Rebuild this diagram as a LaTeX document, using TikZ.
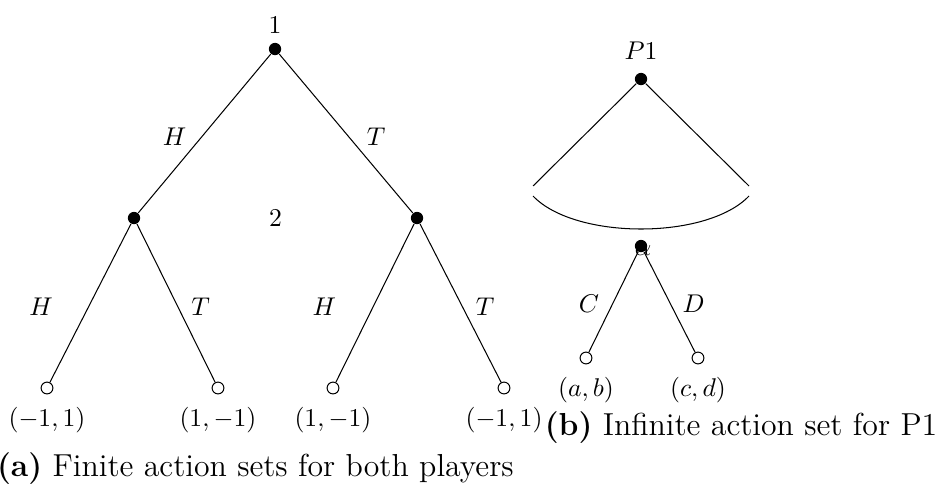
\documentclass[tikz,border=0pt]{standalone}
\usetikzlibrary{positioning, calc}

\begin{document}
\begin{tikzpicture}[
    x=0.39pt, y=-0.39pt,
    dot/.style={circle, fill, inner sep=0pt, minimum size=4.8pt},
    leaf/.style={circle, draw, fill=white, inner sep=0pt, minimum size=4.6pt},
    capt/.style={font=\fontsize{12.4}{14}\selectfont},
    every label/.style={label distance=1.5pt}
  ]
  \useasboundingbox (0,0) rectangle (944,488);

  % (a) finite game
  \node[dot, label={[label distance=0pt]above:$1$}] (r) at (275,49) {};
  \node[dot] (a1) at (134,218) {};
  \node[dot] (a2) at (417,218) {};
  \node (p2) at ($(a1)!0.5!(a2)$) {$2$};

  \node[leaf, label=below:{$(-1,1)$}] (l1) at (47,388) {};
  \node[leaf, label=below:{$(1,-1)$}] (l2) at (218,388) {};
  \node[leaf, label=below:{$(1,-1)$}] (l3) at (333,388) {};
  \node[leaf, label=below:{$(-1,1)$}] (l4) at (504,388) {};

  \draw (r) -- (a1) node[pos=.52, left=2.5pt] {$H$};
  \draw (r) -- (a2) node[pos=.52, right=3.6pt] {$T$};
  \draw (a1) -- (l1) node[pos=.52, left=10.5pt] {$H$};
  \draw (a1) -- (l2) node[pos=.52, right=1.8pt] {$T$};
  \draw (a2) -- (l3) node[pos=.52, left=11pt] {$H$};
  \draw (a2) -- (l4) node[pos=.52, right=1.8pt] {$T$};

  \node[capt, anchor=west] (capa) at (-12,469)
    {\textbf{(a)} Finite action sets for both players};

  % (b) infinite action set
  \node[dot, label=above:$P1$] (q) at (641,79) {};
  \coordinate (cl) at (533,186);
  \coordinate (cr) at (749,186);
  \coordinate (al) at (533,196);
  \coordinate (ar) at (749,196);
  \draw (cl) -- (q) -- (cr);
  \draw (al) .. controls (575,240) and (707,240) .. (ar);

  \node (alpha) at (643,250) {$\alpha$};
  \node[dot] (b) at (641,246) {};
  \node[leaf, label=below:{$(a,b)$}] (m1) at (586,358) {};
  \node[leaf, label=below:{$(c,d)$}] (m2) at (698,358) {};
  \draw (b) -- (m1) node[pos=.52, left=1.7pt] {$C$};
  \draw (b) -- (m2) node[pos=.52, right=1.2pt] {$D$};

  \node[capt] (capb) at (741,428)
    {\textbf{(b)} Infinite action set for P1};
\end{tikzpicture}
\end{document}
